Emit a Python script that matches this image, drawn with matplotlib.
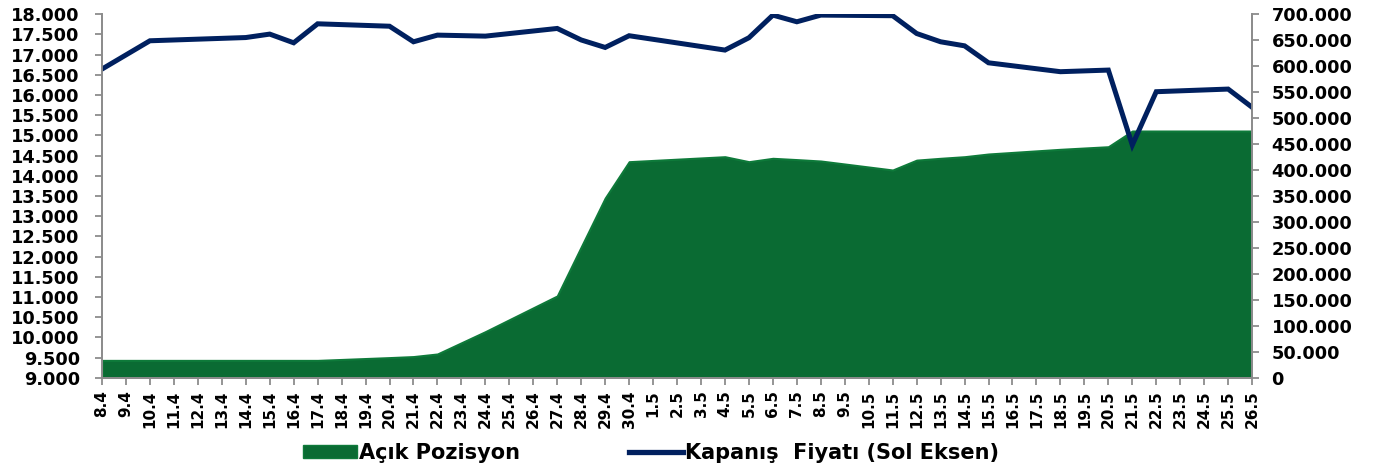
import numpy as np
import matplotlib
matplotlib.use("Agg")
import matplotlib.pyplot as plt
from matplotlib.ticker import FuncFormatter, MultipleLocator
from matplotlib.patches import Patch
from matplotlib.lines import Line2D

plt.rcParams['font.family'] = ['DejaVu Sans']
plt.rcParams['font.weight'] = 'bold'

# trading days (2020)
gunler = ['2020-04-08', '2020-04-10', '2020-04-14', '2020-04-15', '2020-04-16',
          '2020-04-17', '2020-04-20', '2020-04-21', '2020-04-22', '2020-04-24',
          '2020-04-27', '2020-04-28', '2020-04-29', '2020-04-30', '2020-05-04',
          '2020-05-05', '2020-05-06', '2020-05-07', '2020-05-08', '2020-05-11',
          '2020-05-12', '2020-05-13', '2020-05-14', '2020-05-15', '2020-05-18',
          '2020-05-20', '2020-05-21', '2020-05-22', '2020-05-25', '2020-05-26']

# Kapanış fiyatı (left axis)
fiyat = [16640, 17340, 17420, 17505, 17290,
         17760, 17700, 17315, 17480, 17455,
         17645, 17360, 17175, 17465, 17110,
         17415, 17975, 17810, 17975, 17960,
         17520, 17315, 17215, 16795, 16575,
         16615, 14760, 16080, 16145, 15695]

# Açık pozisyon (right axis)
pozisyon = [33650, 33650, 33650, 33650, 33650,
            33650, 39000, 41000, 46000, 89000,
            157700, 252000, 346000, 416000, 425600,
            416000, 422500, 420000, 417300, 400000,
            419000, 422500, 425600, 430800, 439800,
            444800, 475000, 475000, 475000, 475000]

tarih = np.array(gunler, dtype='datetime64[D]')
tum_gunler = np.arange(tarih[0], tarih[-1] + 1)

koyu_mavi = '#00205F'
yesil = '#0A6B33'
gri = '#8C8C8C'

fig = plt.figure(figsize=(13.82, 4.70), dpi=100)
ax = fig.add_axes([0.0738, 0.196, 0.8322, 0.774])
ax2 = ax.twinx()

ax2.fill_between(tarih, pozisyon, 0, color=yesil, edgecolor='#0E7A3A', linewidth=1.5)
ax.plot(tarih, fiyat, color=koyu_mavi, linewidth=3.6, solid_joinstyle='miter')

ax.set_zorder(ax2.get_zorder() + 1)
ax.patch.set_visible(False)

ax.set_xlim(tarih[0], tarih[-1])
ax.set_ylim(9000, 18000)
ax2.set_ylim(0, 700000)
ax.yaxis.set_major_locator(MultipleLocator(500))
ax2.yaxis.set_major_locator(MultipleLocator(50000))

noktali = FuncFormatter(lambda v, p: '{:,.0f}'.format(v).replace(',', '.'))
ax.yaxis.set_major_formatter(noktali)
ax2.yaxis.set_major_formatter(noktali)

ax.set_xticks(tum_gunler)
ax.set_xticklabels(['{}.{}'.format(d.day, d.month) for d in tum_gunler.astype(object)],
                   rotation=90)

for a in (ax, ax2):
    for s in a.spines.values():
        s.set_color(gri)
        s.set_linewidth(1.3)
    a.spines['top'].set_visible(False)
    a.tick_params(colors=gri, labelcolor='black', length=5, width=1.3)
ax.tick_params(axis='y', labelsize=12.8, pad=11)
ax2.tick_params(axis='y', labelsize=12.8, pad=9)
ax.tick_params(axis='x', labelsize=11, pad=4)

handles = [Patch(facecolor=yesil, edgecolor='#0E7A3A', label='Açık Pozisyon'),
           Line2D([], [], color=koyu_mavi, linewidth=3.8, label='Kapanış  Fiyatı (Sol Eksen)')]
fig.legend(handles=handles, loc='center', bbox_to_anchor=(0.471, 0.036), ncol=2,
           frameon=False, fontsize=15, handlelength=2.6, handleheight=0.6,
           columnspacing=5.2, handletextpad=0.1)

fig.savefig('out.png', dpi=100)
